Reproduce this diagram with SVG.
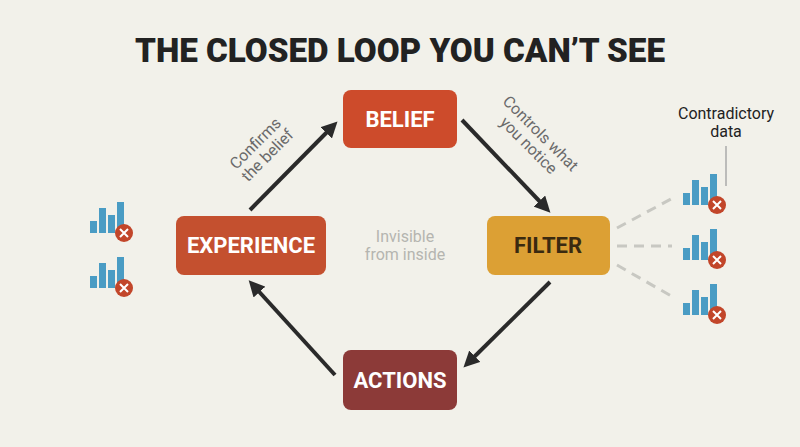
<svg xmlns="http://www.w3.org/2000/svg" width="800" height="447" viewBox="0 0 800 447">
<defs>
<style>
.node text{font-family:Roboto,"Liberation Sans",sans-serif;font-weight:700;font-size:22px;fill:#fff;text-anchor:middle}
.lbl{font-family:Roboto,"Liberation Sans",sans-serif;font-size:15px;fill:#6a6a6a;text-anchor:middle}
.bar{fill:#4a9cc4}
.conn line.a{stroke:#2a2a2a;stroke-width:4;marker-end:url(#ah)}
.conn line.d{stroke:#c8c8c2;stroke-width:3;stroke-dasharray:10 7}
</style>
<marker id="ah" viewBox="0 0 10 10" refX="6" refY="5" markerWidth="4" markerHeight="4" orient="auto"><path d="M0,0 L10,5 L0,10 z" fill="#2a2a2a"/></marker>
<g id="icon">
<rect class="bar" x="0" y="-12" width="7" height="12"/>
<rect class="bar" x="9" y="-25" width="7" height="25"/>
<rect class="bar" x="18" y="-18" width="7" height="18"/>
<rect class="bar" x="27" y="-31" width="7" height="31"/>
<circle cx="34" cy="0" r="9" fill="#c2462a"/>
<path d="M30,-4 L38,4 M38,-4 L30,4" stroke="#fff" stroke-width="2"/>
</g>
</defs>
<rect width="800" height="447" fill="#f2f1ea"/>
<text x="400" y="62" font-family="Roboto,'Liberation Sans',sans-serif" font-weight="900" font-size="34" fill="#222" text-anchor="middle" textLength="530" lengthAdjust="spacingAndGlyphs">THE CLOSED LOOP YOU CAN’T SEE</text>
<g class="conn">
<line class="a" x1="250" y1="210" x2="333" y2="126"/>
<line class="a" x1="462" y1="120" x2="546" y2="208"/>
<line class="a" x1="550" y1="282" x2="468" y2="363"/>
<line class="a" x1="335" y1="375" x2="253" y2="285"/>
<line class="d" x1="617" y1="228" x2="673" y2="198"/>
<line class="d" x1="617" y1="246" x2="672" y2="246"/>
<line class="d" x1="617" y1="265" x2="673" y2="297"/>
<line x1="726" y1="146" x2="726" y2="186" stroke="#aaa" stroke-width="1.5"/>
</g>
<g id="belief" class="node"><rect x="343" y="90" width="114" height="58" rx="8" fill="#cd4b2b"/><text x="400" y="127">BELIEF</text></g>
<g id="experience" class="node"><rect x="176" y="216" width="150" height="59" rx="8" fill="#c4502f"/><text x="251" y="253">EXPERIENCE</text></g>
<g id="filter" class="node"><rect x="487" y="216" width="123" height="59" rx="8" fill="#dca034"/><text x="548" y="253" style="fill:#3a2a10">FILTER</text></g>
<g id="actions" class="node"><rect x="343" y="350" width="114" height="60" rx="8" fill="#8c3a38"/><text x="400" y="388">ACTIONS</text></g>
<text class="lbl" transform="translate(262,150) rotate(-45)" style="font-size:16px"><tspan x="0" y="-4">Confirms</tspan><tspan x="0" y="13">the belief</tspan></text>
<text class="lbl" transform="translate(534,140) rotate(45)" style="font-size:16px"><tspan x="0" y="-4">Controls what</tspan><tspan x="0" y="13">you notice</tspan></text>
<text class="lbl" style="fill:#b5b5b0;font-size:16px"><tspan x="405" y="242">Invisible</tspan><tspan x="405" y="260">from inside</tspan></text>
<text class="lbl" style="fill:#222;font-size:16px"><tspan x="726" y="119">Contradictory</tspan><tspan x="726" y="137">data</tspan></text>
<use href="#icon" x="683" y="205"/>
<use href="#icon" x="683" y="260"/>
<use href="#icon" x="683" y="315"/>
<use href="#icon" x="90" y="233"/>
<use href="#icon" x="90" y="288"/>
</svg>
